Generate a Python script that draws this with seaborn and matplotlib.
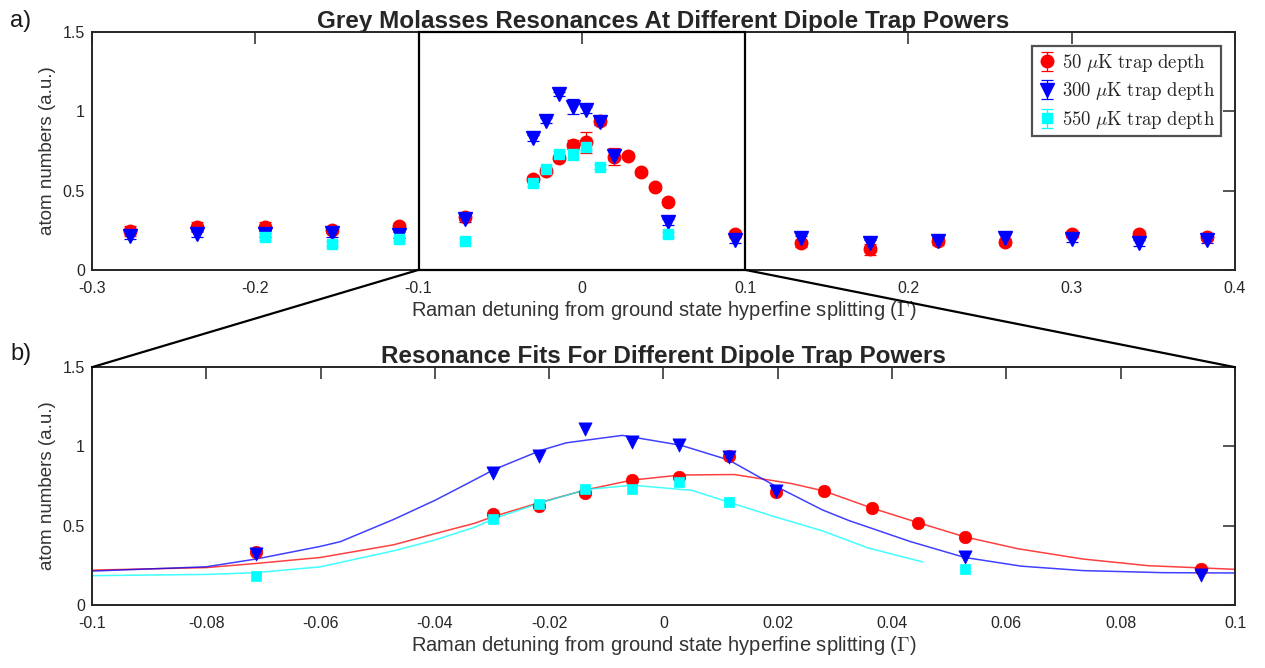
import matplotlib
matplotlib.use("Agg")
import matplotlib.pyplot as plt
import numpy as np
import pandas as pd
import seaborn as sns
from matplotlib.patches import ConnectionPatch, Rectangle

sns.set_theme(style="white")
plt.rcParams["font.family"] = ["Liberation Sans", "DejaVu Sans"]
plt.rcParams["mathtext.fontset"] = "cm"
plt.rcParams["axes.unicode_minus"] = False

# measured detunings (Gamma) and atom numbers (a.u.)
x_50 = [-0.277, -0.2356, -0.194, -0.153, -0.112, -0.0713, -0.0298, -0.0217,
        -0.0138, -0.0055, 0.0027, 0.0114, 0.0196, 0.0281, 0.0365, 0.0446,
        0.0527, 0.094, 0.134, 0.1767, 0.218, 0.259, 0.3, 0.341, 0.383]
y_50 = [0.246, 0.27, 0.27, 0.25, 0.275, 0.335, 0.575, 0.625, 0.705, 0.79,
        0.805, 0.94, 0.715, 0.72, 0.615, 0.52, 0.43, 0.225, 0.167, 0.13,
        0.18, 0.175, 0.225, 0.225, 0.21]
e_50 = [0.03, 0.03, 0.035, 0.02, 0.02, 0.02, 0.02, 0.02, 0.02, 0.03, 0.067,
        0.02, 0.055, 0.015, 0.015, 0.015, 0.015, 0.02, 0.02, 0.035, 0.02,
        0.02, 0.02, 0.02, 0.02]

x_300 = [-0.277, -0.2356, -0.194, -0.153, -0.112, -0.0713, -0.0298, -0.0217,
         -0.0138, -0.0055, 0.0027, 0.0114, 0.0196, 0.0527, 0.094, 0.134,
         0.1767, 0.218, 0.259, 0.3, 0.341, 0.383]
y_300 = [0.215, 0.228, 0.228, 0.23, 0.22, 0.32, 0.83, 0.94, 1.11, 1.03,
         1.01, 0.935, 0.72, 0.30, 0.19, 0.2, 0.17, 0.185, 0.2, 0.195, 0.17,
         0.19]
e_300 = [0.02, 0.02, 0.02, 0.02, 0.02, 0.02, 0.02, 0.015, 0.015, 0.047, 0.02,
         0.02, 0.03, 0.02, 0.02, 0.015, 0.02, 0.015, 0.025, 0.02, 0.02, 0.02]

x_550 = [-0.194, -0.153, -0.112, -0.0713, -0.0298, -0.0217, -0.0138, -0.0055,
         0.0027, 0.0114, 0.0527]
y_550 = [0.205, 0.165, 0.195, 0.185, 0.545, 0.635, 0.73, 0.73, 0.775, 0.65,
         0.225]
e_550 = [0.015, 0.015, 0.015, 0.015, 0.015, 0.015, 0.02, 0.04, 0.02, 0.015,
         0.015]

# fitted resonance curves
fit_x_50 = [-0.1, -0.08, -0.0713, -0.06, -0.0472, -0.04, -0.0331, -0.0296,
            -0.0215, -0.0134, -0.0055, 0.003, 0.0124, 0.0224, 0.0281, 0.0365,
            0.0446, 0.0527, 0.062, 0.0734, 0.0848, 0.1]
fit_y_50 = [0.22, 0.236, 0.262, 0.30, 0.38, 0.45, 0.515, 0.56, 0.648, 0.728,
            0.788, 0.82, 0.823, 0.766, 0.719, 0.611, 0.519, 0.43, 0.355, 0.29,
            0.248, 0.225]
fit_x_300 = [-0.1, -0.08, -0.0713, -0.06, -0.0565, -0.0472, -0.04, -0.0356,
             -0.0296, -0.0215, -0.017, -0.0072, 0.003, 0.0114, 0.0196, 0.0278,
             0.0325, 0.0432, 0.0527, 0.0626, 0.0734, 0.0875, 0.1]
fit_y_300 = [0.214, 0.241, 0.29, 0.37, 0.40, 0.54, 0.66, 0.742, 0.855, 0.975,
             1.023, 1.07, 1.008, 0.915, 0.75, 0.60, 0.532, 0.40, 0.30, 0.245,
             0.217, 0.204, 0.202]
fit_x_550 = [-0.1, -0.08, -0.0713, -0.06, -0.0472, -0.04, -0.0331, -0.0296,
             -0.0215, -0.0134, -0.0055, 0.005, 0.0114, 0.0198, 0.0278, 0.0358,
             0.0453]
fit_y_550 = [0.185, 0.193, 0.204, 0.241, 0.342, 0.41, 0.49, 0.546, 0.645,
             0.729, 0.756, 0.723, 0.649, 0.553, 0.468, 0.36, 0.272]

labels = [r"$\mathrm{50}\ \mu\mathrm{K\ trap\ depth}$",
          r"$\mathrm{300}\ \mu\mathrm{K\ trap\ depth}$",
          r"$\mathrm{550}\ \mu\mathrm{K\ trap\ depth}$"]
series = [
    (x_50, y_50, e_50, fit_x_50, fit_y_50, "red", "o", 9),
    (x_300, y_300, e_300, fit_x_300, fit_y_300, "blue", "v", 9.5),
    (x_550, y_550, e_550, fit_x_550, fit_y_550, "cyan", "s", 7.5),
]

fig = plt.figure(figsize=(12.65, 6.68), dpi=100)
ax1 = fig.add_axes([0.0727, 0.596, 0.9036, 0.356])
ax2 = fig.add_axes([0.0727, 0.0943, 0.9036, 0.356])

handles = []
for (x, y, e, fx, fy, col, mk, ms), lab in zip(series, labels):
    h = ax1.errorbar(x, y, yerr=e, fmt=mk, color=col, ms=ms, elinewidth=0.9,
                     capsize=4, capthick=0.9, label=lab)
    handles.append(h)

# panel b: fits then markers
for x, y, e, fx, fy, col, mk, ms in series:
    sns.lineplot(x=fx, y=fy, ax=ax2, color=col, lw=1.1, alpha=0.75,
                 sort=False, estimator=None)
for x, y, e, fx, fy, col, mk, ms in series:
    df = pd.DataFrame({"x": x, "y": y})
    df = df[(df.x > -0.1) & (df.x < 0.1)]
    sns.scatterplot(data=df, x="x", y="y", ax=ax2, color=col, marker=mk,
                    s=ms ** 2, edgecolor=col, linewidth=0.5, zorder=3)

ax1.set_xlim(-0.3, 0.4)
ax1.set_ylim(0, 1.5)
ax1.set_xticks([-0.3, -0.2, -0.1, 0, 0.1, 0.2, 0.3, 0.4])
ax1.set_xticklabels(["-0.3", "-0.2", "-0.1", "0", "0.1", "0.2", "0.3", "0.4"])
ax2.set_xlim(-0.1, 0.1)
ax2.set_ylim(0, 1.5)
ax2.set_xticks([-0.1, -0.08, -0.06, -0.04, -0.02, 0, 0.02, 0.04, 0.06,
                0.08, 0.1])
ax2.set_xticklabels(["-0.1", "-0.08", "-0.06", "-0.04", "-0.02", "0", "0.02",
                     "0.04", "0.06", "0.08", "0.1"])

xlab = r"Raman detuning from ground state hyperfine splitting ($\Gamma$)"
for ax, title in [(ax1, "Grey Molasses Resonances At Different Dipole Trap Powers"),
                  (ax2, "Resonance Fits For Different Dipole Trap Powers")]:
    ax.set_yticks([0, 0.5, 1, 1.5])
    ax.set_yticklabels(["0", "0.5", "1", "1.5"])
    ax.tick_params(direction="in", length=8.5, width=1.1, top=True,
                   right=True, colors="0.15", labelsize=11.5, pad=5)
    ax.tick_params(axis="x", pad=8)
    for s in ax.spines.values():
        s.set_linewidth(1.4)
        s.set_color("0.15")
    ax.set_xlabel(xlab, fontsize=14.5, color="0.2", labelpad=2)
    ax.set_ylabel("atom numbers (a.u.)", fontsize=13.5, color="0.2",
                  labelpad=5)
    ax.set_title(title, fontsize=17.5, fontweight="bold", pad=3)

# zoom box and connector lines
ax1.add_patch(Rectangle((-0.1, 0), 0.2, 1.5, fill=False, ec="black", lw=1.6,
                        clip_on=False, zorder=5))
for xv in (-0.1, 0.1):
    con = ConnectionPatch(xyA=(xv, 0), coordsA=ax1.transData,
                          xyB=(xv, 1.5), coordsB=ax2.transData,
                          color="black", lw=1.6)
    fig.add_artist(con)

leg = ax1.legend(handles=handles, labels=labels, loc="upper right",
                 bbox_to_anchor=(0.988, 0.941), borderaxespad=0,
                 fontsize=13.5, frameon=True, fancybox=False,
                 handlelength=1.0, handletextpad=0.3, borderpad=0.3,
                 labelspacing=0.35)
leg.get_frame().set_edgecolor("0.15")
leg.get_frame().set_linewidth(1.6)

fig.text(0.008, 0.968, "a)", fontsize=17, va="center", color="0.1")
fig.text(0.008, 0.47, "b)", fontsize=17, va="center", color="0.1")

fig.savefig("out.png", dpi=100, facecolor="white")
